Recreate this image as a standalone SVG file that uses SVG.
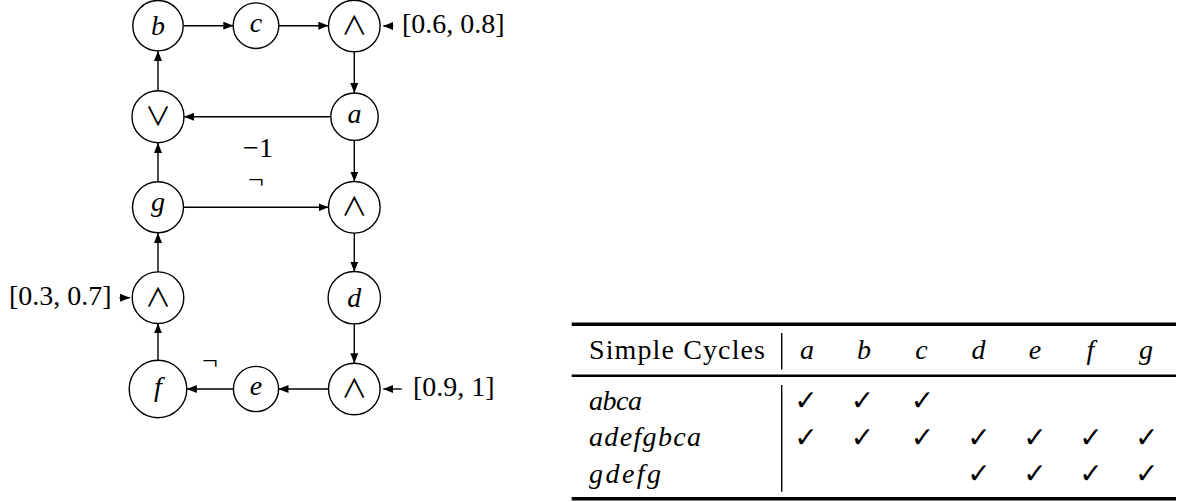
<svg xmlns="http://www.w3.org/2000/svg" width="1196" height="502" viewBox="0 0 1196 502">
<defs>
<marker id="ah" markerUnits="userSpaceOnUse" markerWidth="10" markerHeight="8" refX="10" refY="4" orient="auto">
<path d="M0,0 L10,4 L0,8 z" fill="#000"/>
</marker>
</defs>
<rect width="1196" height="502" fill="#fff"/>

<g id="connectors" fill="none" stroke="#000" stroke-width="1.4">
<path d="M183.5,25.7 H233.3" marker-end="url(#ah)"/>
<path d="M279,25.7 H328.4" marker-end="url(#ah)"/>
<path d="M393.3,26 H383.3" marker-end="url(#ah)"/>
<path d="M354.3,51.8 V93" marker-end="url(#ah)"/>
<path d="M331,116.7 H184" marker-end="url(#ah)"/>
<path d="M158,90.5 V50.9" marker-end="url(#ah)"/>
<path d="M354.3,140.4 V181.5" marker-end="url(#ah)"/>
<path d="M183.5,207.3 H328.5" marker-end="url(#ah)"/>
<path d="M158,181.8 V142.9" marker-end="url(#ah)"/>
<path d="M354.3,233 V271.7" marker-end="url(#ah)"/>
<path d="M354.3,323.7 V363.3" marker-end="url(#ah)"/>
<path d="M328.5,389 H278.5" marker-end="url(#ah)"/>
<path d="M233.3,389 H186.8" marker-end="url(#ah)"/>
<path d="M401.7,389 H383.3" marker-end="url(#ah)"/>
<path d="M158,360.2 V323.4" marker-end="url(#ah)"/>
<path d="M158,272 V233" marker-end="url(#ah)"/>
<path d="M119.5,297.7 H130" marker-end="url(#ah)"/>
</g>
<g id="edge-labels" font-family="Liberation Serif" font-size="28" fill="#000" text-anchor="middle">
<text x="258" y="157">−1</text>
<text x="256" y="189">¬</text>
<text x="210" y="370">¬</text>
</g>

<g id="nodes" fill="#fff" stroke="#000" stroke-width="1.4">
<circle id="node-b" cx="158" cy="25.7" r="25.2"/>
<circle id="node-c" cx="256" cy="25.7" r="22.8"/>
<circle id="node-and1" cx="354.3" cy="26" r="25.8"/>
<circle id="node-or" cx="158" cy="116.7" r="26"/>
<circle id="node-a" cx="354.5" cy="116.7" r="23.7"/>
<circle id="node-g" cx="158" cy="207.3" r="25.5"/>
<circle id="node-and2" cx="354.3" cy="207.3" r="25.8"/>
<circle id="node-and3" cx="158" cy="297.7" r="25.8"/>
<circle id="node-d" cx="354.3" cy="297.7" r="26.2"/>
<circle id="node-f" cx="158" cy="389" r="28.8"/>
<circle id="node-e" cx="256" cy="389" r="22.6"/>
<circle id="node-and4" cx="354.3" cy="389" r="25.8"/>
</g>
<g id="node-letters" font-family="Liberation Serif" font-size="28" font-style="italic" fill="#000" text-anchor="middle">
<text x="158" y="35.3">b</text>
<text x="256" y="31.8">c</text>
<text x="354.5" y="123">a</text>
<text x="158" y="210.5">g</text>
<text x="354.3" y="307.3">d</text>
<text x="158" y="396">f</text>
<text x="256" y="395.2">e</text>
</g>
<g id="node-ops" font-family="Noto Sans CJK JP" font-size="26" fill="#000" text-anchor="middle">
<text x="354.3" y="35">∧</text>
<text x="158" y="125.7">∨</text>
<text x="354.3" y="216.3">∧</text>
<text x="158" y="306.7">∧</text>
<text x="354.3" y="398">∧</text>
</g>
<g id="inputs" font-family="Liberation Serif" font-size="28" fill="#000">
<text x="402" y="33">[0.6, 0.8]</text>
<text x="9" y="305">[0.3, 0.7]</text>
<text x="413" y="396">[0.9, 1]</text>
</g>

<g id="table">
<g stroke="#000">
<line x1="571.7" y1="324.3" x2="1176" y2="324.3" stroke-width="3.6"/>
<line x1="571.7" y1="375.8" x2="1176" y2="375.8" stroke-width="2.4"/>
<line x1="571.7" y1="498.7" x2="1176" y2="498.7" stroke-width="3.6"/>
<line x1="781.7" y1="333" x2="781.7" y2="369.5" stroke-width="1.4"/>
<line x1="781.7" y1="385" x2="781.7" y2="491.7" stroke-width="1.4"/>
</g>
<text font-family="Liberation Serif" font-size="28" fill="#000" x="589" y="359" textLength="176" lengthAdjust="spacing">Simple Cycles</text>
<g font-family="Liberation Serif" font-size="28" font-style="italic" fill="#000" text-anchor="middle">
<text x="807" y="359">a</text>
<text x="864" y="359">b</text>
<text x="921.5" y="359">c</text>
<text x="978.5" y="359">d</text>
<text x="1035" y="359">e</text>
<text x="1090.5" y="359">f</text>
<text x="1146" y="359">g</text>
</g>
<g font-family="Liberation Serif" font-size="28" font-style="italic" fill="#000">
<text x="589" y="409.5" textLength="53" lengthAdjust="spacing">abca</text>
<text x="589" y="446" textLength="112" lengthAdjust="spacing">adefgbca</text>
<text x="589" y="482.5" textLength="72" lengthAdjust="spacing">gdefg</text>
</g>
<g font-family="DejaVu Sans" font-size="28" fill="#000" text-anchor="middle">
<text x="806" y="410">✓</text>
<text x="862.5" y="410">✓</text>
<text x="922.5" y="410">✓</text>
<text x="806" y="446.5">✓</text>
<text x="862.5" y="446.5">✓</text>
<text x="922.5" y="446.5">✓</text>
<text x="979" y="446.5">✓</text>
<text x="1035" y="446.5">✓</text>
<text x="1091" y="446.5">✓</text>
<text x="1146.7" y="446.5">✓</text>
<text x="979" y="483">✓</text>
<text x="1035" y="483">✓</text>
<text x="1091" y="483">✓</text>
<text x="1146.7" y="483">✓</text>
</g>
</g>
</svg>
